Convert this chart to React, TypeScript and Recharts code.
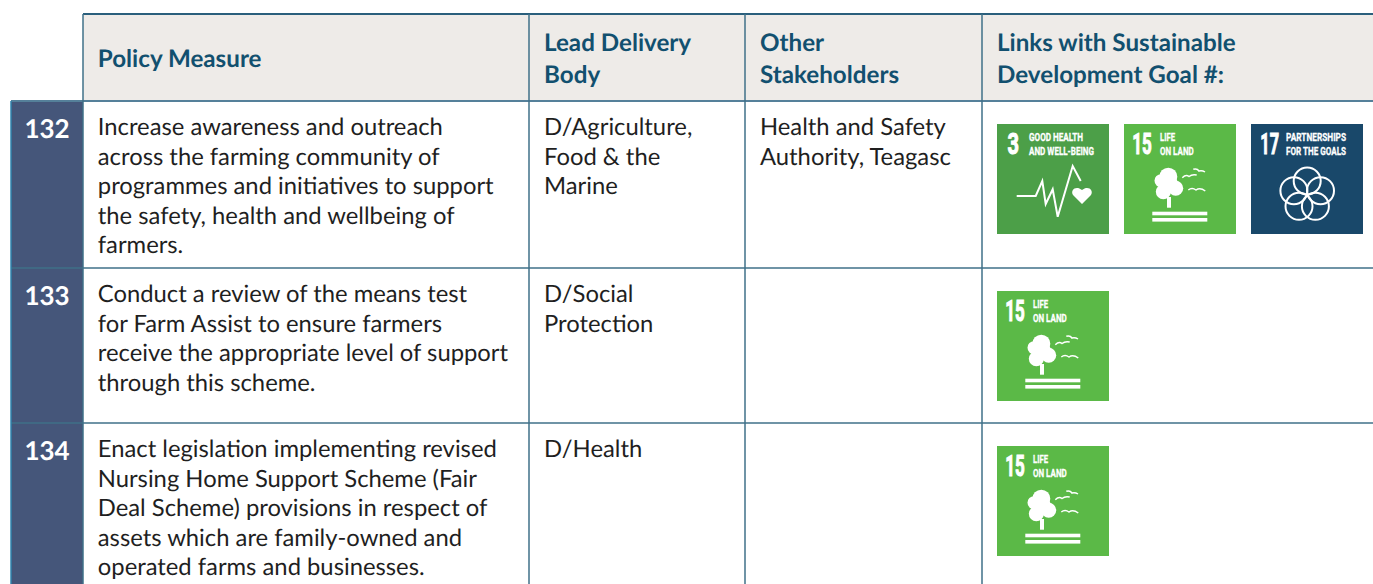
import { ComposedChart, ReferenceArea, ReferenceLine, Scatter, XAxis, YAxis } from "recharts";

const WIDTH = 1373;
const HEIGHT = 584;

const headers = [["Policy Measure"], ["Lead Delivery", "Body"], ["Other", "Stakeholders"], ["Links with Sustainable", "Development Goal #:"]];
const policyIds = ["132", "133", "134"];
const policyMeasures = [
  [
    "Increase awareness and outreach",
    "across the farming community of",
    "programmes and initiatives to support",
    "the safety, health and wellbeing of",
    "farmers.",
  ],
  [
    "Conduct a review of the means test",
    "for Farm Assist to ensure farmers",
    "receive the appropriate level of support",
    "through this scheme.",
  ],
  [
    "Enact legislation implementing revised",
    "Nursing Home Support Scheme (Fair",
    "Deal Scheme) provisions in respect of",
    "assets which are family-owned and",
    "operated farms and businesses.",
  ],
];
const leadBodies = [["D/Agriculture,", "Food & the", "Marine"], ["D/Social", "Protection"], ["D/Health"]];
const otherStakeholders = [["Health and Safety", "Authority, Teagasc"], [], []];
const goalLinks = [[3, 15, 17], [15], [15]];

// table geometry, used as the axis domain units
const colEdges = [83, 529, 745, 982];
const rowEdges = [14, 101, 268, 423, 584];
const textX = [97.8, 544, 760, 997];
const idLeft = 11;
const LINE_H = 29.5;

const NAVY = "#12506f";
const INK = "#1f1f1f";
const GRID = "#3f7189";

const headerCells = headers.map((lines, i) => ({
  x: textX[i],
  y: lines.length === 1 ? 67 : 51,
  lines,
}));

const bodyCells = policyIds.flatMap((_, r) =>
  [policyMeasures[r], leadBodies[r], otherStakeholders[r]].map((lines, c) => ({
    x: textX[c],
    y: rowEdges[r + 1] + 34.4,
    lines,
  })),
);

const idCells = policyIds.map((id, r) => ({ x: 47, y: rowEdges[r + 1] + 36.5, id }));

const tiles = goalLinks.flatMap((goals, r) =>
  goals.map((goal, i) => ({ x: 997 + i * 127, y: rowEdges[r + 1] + 23, goal })),
);

function HeaderText({ cx, cy, payload }: any) {
  return (
    <text fontFamily="Lato" fontWeight={700} fontSize={24.2} fill={NAVY} textRendering="geometricPrecision">
      {payload.lines.map((l: string, i: number) => (
        <tspan key={i} x={cx} y={cy + i * 32}>
          {l}
        </tspan>
      ))}
    </text>
  );
}

function BodyText({ cx, cy, payload }: any) {
  return (
    <text fontFamily="Lato" fontSize={23.8} fill={INK} textRendering="geometricPrecision">
      {payload.lines.map((l: string, i: number) => (
        <tspan key={i} x={cx} y={cy + i * LINE_H}>
          {l}
        </tspan>
      ))}
    </text>
  );
}

function IdText({ cx, cy, payload }: any) {
  return (
    <text x={cx} y={cy} textAnchor="middle" fontFamily="Lato" fontWeight={700} fontSize={26} fill="#ffffff" textRendering="geometricPrecision">
      {payload.id}
    </text>
  );
}

// condensed lettering on the goal tiles: small narrow font stretched upward
function TileLabel({ x, y, w, size = 9.5, k = 1.18, bold = 0.25, children }: any) {
  return (
    <text
      transform={`translate(${x},${y}) scale(1,${k})`}
      textLength={w}
      lengthAdjust="spacingAndGlyphs"
      fontFamily="Liberation Sans Narrow, Roboto"
      fontWeight={700}
      fontSize={size}
      fill="#fff"
      stroke="#fff"
      strokeWidth={bold}
    >
      {children}
    </text>
  );
}

function GoalTile({ cx, cy, payload }: any) {
  const goal = payload.goal;
  const fill = goal === 3 ? "#4c9f48" : goal === 15 ? "#5bb947" : "#19486a";
  return (
    <g transform={`translate(${cx},${cy})`}>
      <rect width={112} height={110} fill={fill} />
      {goal === 3 && (
        <>
          <TileLabel x={10.5} y={30} w={11.5} size={22} k={1.36} bold={0.8}>3</TileLabel>
          <TileLabel x={32} y={16.7} w={54}>GOOD HEALTH</TileLabel>
          <TileLabel x={32} y={30.5} w={65}>AND WELL-BEING</TileLabel>
          <polyline
            points="19.7,72 38.7,72 45.3,57 48.7,80 55.7,65.3 60.7,92.7 75.7,42 83.7,57"
            fill="none"
            stroke="#fff"
            strokeWidth={2}
          />
          <path d="M85 80 L76 71 C73 66 79 61 85 66 C91 61 97 66 94 71 Z" fill="#fff" />
        </>
      )}
      {goal === 15 && (
        <>
          <TileLabel x={8.3} y={30} w={19.5} size={22} k={1.36} bold={0.8}>15</TileLabel>
          <TileLabel x={36} y={17.2} w={15}>LIFE</TileLabel>
          <TileLabel x={36} y={31} w={33.7}>ON LAND</TileLabel>
          <circle cx={44.3} cy={52.7} r={9} fill="#fff" />
          <circle cx={37} cy={56.7} r={6.5} fill="#fff" />
          <circle cx={51.7} cy={64.3} r={7.5} fill="#fff" />
          <circle cx={39.3} cy={67.7} r={7.5} fill="#fff" />
          <circle cx={46} cy={60} r={8} fill="#fff" />
          <rect x={43} y={73} width={4} height={10.7} fill="#fff" />
          <rect x={28.3} y={87.7} width={55} height={3.6} fill="#fff" />
          <rect x={28.3} y={94} width={55} height={3.6} fill="#fff" />
          <g fill="none" stroke="#fff" strokeWidth={1.5}>
            <path d="M58.3 53.7 Q62 50 65 52.5 Q68 50 72.7 51" />
            <path d="M69.3 45.3 Q73 44 75 47 Q78 46 81 48" />
            <path d="M64.3 66 Q68 63 72 66 Q76 63 81.3 67" />
          </g>
        </>
      )}
      {goal === 17 && (
        <>
          <TileLabel x={9.3} y={30} w={18.7} size={22} k={1.36} bold={0.8}>17</TileLabel>
          <TileLabel x={35} y={16.7} w={60}>PARTNERSHIPS</TileLabel>
          <TileLabel x={35} y={30.7} w={60}>FOR THE GOALS</TileLabel>
          <g fill="none" stroke="#fff" strokeWidth={2}>
            <circle cx={56.2} cy={57} r={13.5} />
            <circle cx={69.5} cy={66.7} r={13.5} />
            <circle cx={64.4} cy={82.3} r={13.5} />
            <circle cx={48} cy={82.3} r={13.5} />
            <circle cx={42.9} cy={66.7} r={13.5} />
          </g>
        </>
      )}
    </g>
  );
}

const seg = (x1: number, y1: number, x2: number, y2: number) => [
  { x: x1, y: y1 },
  { x: x2, y: y2 },
];

export default function App() {
  return (
    <div style={{ position: "absolute", left: 0, top: 0, width: WIDTH, height: HEIGHT, background: "#fff" }}>
      <ComposedChart width={WIDTH} height={HEIGHT} margin={{ top: 0, right: 0, bottom: 0, left: 0 }}>
        <XAxis type="number" dataKey="x" domain={[0, WIDTH]} hide allowDataOverflow />
        <YAxis type="number" dataKey="y" domain={[0, HEIGHT]} reversed hide allowDataOverflow />

        <ReferenceArea x1={colEdges[0]} x2={WIDTH} y1={rowEdges[0]} y2={rowEdges[1]} fill="#eeebe8" fillOpacity={1} stroke="none" />
        <ReferenceArea x1={idLeft} x2={colEdges[0]} y1={rowEdges[1]} y2={HEIGHT} fill="#45567a" fillOpacity={1} stroke="none" />

        <ReferenceLine segment={seg(colEdges[0], rowEdges[0], WIDTH, rowEdges[0])} stroke="#2a5f7c" strokeWidth={2} />
        <ReferenceLine segment={seg(idLeft, rowEdges[1], WIDTH, rowEdges[1])} stroke="#55809a" strokeWidth={2} />
        {rowEdges.slice(2, 4).map((y) => (
          <ReferenceLine key={y} segment={seg(idLeft, y, WIDTH, y)} stroke={GRID} strokeWidth={1.5} />
        ))}
        <ReferenceLine segment={seg(idLeft, rowEdges[1], idLeft, HEIGHT)} stroke="#2f83ad" strokeWidth={1.5} />
        {colEdges.map((x) => (
          <ReferenceLine key={x} segment={seg(x, rowEdges[0], x, HEIGHT)} stroke={GRID} strokeWidth={1.5} />
        ))}

        <Scatter data={headerCells} shape={HeaderText} isAnimationActive={false} />
        <Scatter data={bodyCells} shape={BodyText} isAnimationActive={false} />
        <Scatter data={idCells} shape={IdText} isAnimationActive={false} />
        <Scatter data={tiles} shape={GoalTile} isAnimationActive={false} />
      </ComposedChart>
    </div>
  );
}
